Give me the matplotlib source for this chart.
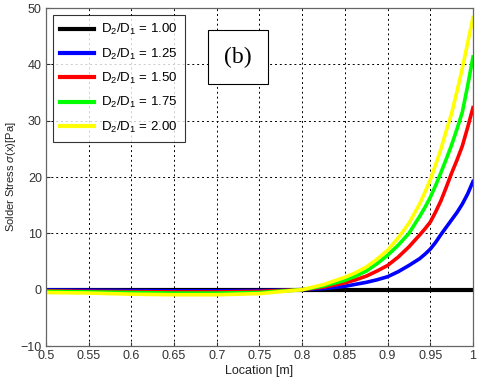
import matplotlib
matplotlib.use('Agg')
import matplotlib.pyplot as plt
import numpy as np

plt.rcParams['font.family'] = ['Liberation Sans', 'DejaVu Sans']
plt.rcParams['mathtext.fontset'] = 'custom'
plt.rcParams['mathtext.rm'] = 'Liberation Sans'
plt.rcParams['mathtext.it'] = 'Liberation Sans:italic'

# 위치 [m]
location = [0.5, 0.55, 0.6, 0.65, 0.7, 0.75, 0.8, 0.825, 0.85, 0.8625,
            0.875, 0.8875, 0.9, 0.9125, 0.925, 0.9375, 0.94375, 0.95,
            0.95625, 0.9625, 0.96875, 0.975, 0.98125, 0.9875, 0.99375, 1.0]

# 직경비별 응력 [Pa]
stress_100 = [0.0] * len(location)
stress_125 = [-0.05, -0.1, -0.15, -0.2, -0.2, -0.15, 0.0, 0.2, 0.6, 0.95,
              1.3, 1.75, 2.3, 3.2, 4.3, 5.5, 6.3, 7.2,
              8.4, 9.8, 11.1, 12.4, 13.7, 15.2, 17.0, 19.2]
stress_150 = [-0.2, -0.3, -0.35, -0.4, -0.4, -0.3, 0.0, 0.45, 1.2, 1.75,
              2.4, 3.3, 4.3, 5.8, 7.6, 9.7, 10.8, 12.0,
              13.8, 15.8, 18.2, 20.7, 23.0, 25.5, 28.8, 32.3]
stress_175 = [-0.3, -0.4, -0.5, -0.6, -0.6, -0.5, 0.0, 0.65, 1.65, 2.4,
              3.3, 4.6, 6.1, 7.9, 10.0, 13.0, 14.6, 16.4,
              18.5, 20.8, 23.2, 25.7, 28.5, 31.5, 36.2, 41.3]
stress_200 = [-0.5, -0.6, -0.8, -0.9, -0.9, -0.7, 0.0, 0.9, 2.2, 3.0,
              4.0, 5.4, 7.0, 9.2, 11.8, 15.2, 17.3, 19.5,
              22.2, 25.0, 28.2, 31.3, 35.2, 39.3, 43.8, 48.3]

ratio_labels = ['1.00', '1.25', '1.50', '1.75', '2.00']
series = [stress_100, stress_125, stress_150, stress_175, stress_200]
colors = ['black', 'blue', 'red', '#00ff00', 'yellow']
widths = [3.0, 2.6, 2.6, 2.6, 2.6]

fig = plt.figure(figsize=(4.8, 3.83), dpi=100)
ax = fig.add_axes([0.0958, 0.0966, 0.8896, 0.8825])

for vals, lab, col, lw in zip(series, ratio_labels, colors, widths):
    ax.plot(location, vals, color=col, linewidth=lw,
            solid_joinstyle='round', label=r'D$_2$/D$_1$ = ' + lab)

ax.set_xlim(0.5, 1.0)
ax.set_ylim(-10, 50)
xticks = np.arange(0.5, 1.0001, 0.05)
ax.set_xticks(xticks)
ax.set_xticklabels(['0.5', '0.55', '0.6', '0.65', '0.7', '0.75', '0.8',
                    '0.85', '0.9', '0.95', '1'])
ax.set_yticks(np.arange(-10, 51, 10))
ax.tick_params(direction='in', length=3, labelsize=9, colors='#333333',
               pad=3)
for sp in ax.spines.values():
    sp.set_color('#666666')
    sp.set_linewidth(0.9)
ax.grid(True, color='black', linestyle=(0, (2, 3)), linewidth=0.7)

ax.set_xlabel('Location [m]', fontsize=9, color='#222222', labelpad=2)
ax.set_ylabel(r'Solder Stress $\sigma$(x)[Pa]', fontsize=8, color='#222222',
              labelpad=2)

leg = ax.legend(loc='upper left', bbox_to_anchor=(0.016, 0.979),
                fontsize=9.5, frameon=True, fancybox=False,
                handlelength=2.6, handletextpad=0.5, labelspacing=0.7,
                borderpad=0.55, borderaxespad=0.0)
leg.get_frame().set_edgecolor('black')
leg.get_frame().set_linewidth(0.8)
for line in leg.get_lines():
    line.set_linewidth(3.0)

ax.text(0.4497, 0.855, '(b)', transform=ax.transAxes, fontsize=17,
        family='Liberation Serif', ha='center', va='center',
        bbox=dict(boxstyle='square,pad=0.7', facecolor='white',
                  edgecolor='black', linewidth=0.8))

fig.savefig('out.png', dpi=100)
